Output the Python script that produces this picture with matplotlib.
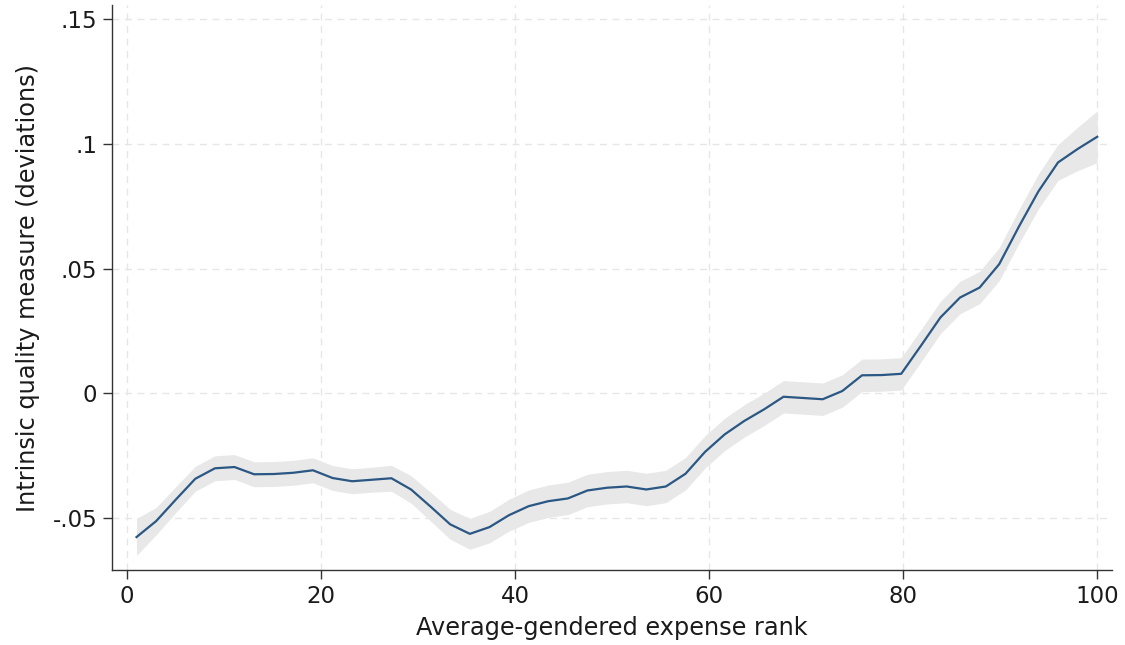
import matplotlib
matplotlib.use("Agg")
import matplotlib.pyplot as plt

# Data
rank = [1.00, 3.02, 5.04, 7.06, 9.08, 11.10, 13.12, 15.14, 17.16, 19.18,
        21.20, 23.22, 25.24, 27.27, 29.29, 31.31, 33.33, 35.35, 37.37, 39.39,
        41.41, 43.43, 45.45, 47.47, 49.49, 51.51, 53.53, 55.55, 57.57, 59.59,
        61.61, 63.63, 65.65, 67.67, 69.69, 71.71, 73.73, 75.76, 77.78, 79.80,
        81.82, 83.84, 85.86, 87.88, 89.90, 91.92, 93.94, 95.96, 97.98, 100.00]

quality = [-0.0577, -0.0513, -0.0427, -0.0343, -0.0301, -0.0296, -0.0325, -0.0324, -0.0319, -0.0309,
           -0.0340, -0.0353, -0.0347, -0.0341, -0.0386, -0.0455, -0.0526, -0.0564, -0.0537, -0.0489,
           -0.0453, -0.0433, -0.0422, -0.0390, -0.0379, -0.0374, -0.0386, -0.0374, -0.0323, -0.0235,
           -0.0165, -0.0111, -0.0065, -0.0014, -0.0019, -0.0024, 0.0009, 0.0072, 0.0073, 0.0078,
           0.0190, 0.0304, 0.0384, 0.0424, 0.0518, 0.0668, 0.0810, 0.0926, 0.0980, 0.1029]

ci_half = [0.0074, 0.0055, 0.0052, 0.0050, 0.0050, 0.0050, 0.0050, 0.0050, 0.0050, 0.0050,
           0.0050, 0.0050, 0.0050, 0.0052, 0.0055, 0.0058, 0.0060, 0.0062, 0.0063, 0.0064,
           0.0065, 0.0065, 0.0065, 0.0065, 0.0065, 0.0065, 0.0065, 0.0065, 0.0065, 0.0065,
           0.0065, 0.0065, 0.0065, 0.0065, 0.0065, 0.0065, 0.0065, 0.0065, 0.0065, 0.0065,
           0.0065, 0.0065, 0.0065, 0.0065, 0.0066, 0.0068, 0.0070, 0.0072, 0.0087, 0.0104]

xticks = [0, 20, 40, 60, 80, 100]
yticks = [-0.05, 0.0, 0.05, 0.10, 0.15]
ytick_labels = ["-.05", "0", ".05", ".1", ".15"]

xlabel = "Average-gendered expense rank"
ylabel = "Intrinsic quality measure (deviations)"

plt.rcParams['font.family'] = ['DejaVu Sans']
text_color = '#1a1a1a'

fig = plt.figure(figsize=(11.25, 6.45), dpi=100)
ax = fig.add_axes([0.0996, 0.1163, 0.8884, 0.8757])

lower = [q - h for q, h in zip(quality, ci_half)]
upper = [q + h for q, h in zip(quality, ci_half)]
ax.fill_between(rank, lower, upper, color='#e8e8e8', linewidth=0, zorder=2)
ax.plot(rank, quality, color='#2a5783', linewidth=1.6, zorder=3)

ax.set_xlim(-1.52, 101.47)
ax.set_ylim(-0.0709, 0.1557)
ax.set_xticks(xticks)
ax.set_yticks(yticks)
ax.set_yticklabels(ytick_labels)

ax.grid(True, color='#e6e6e6', linestyle=(0, (5, 4)), linewidth=1.0, zorder=0)
ax.set_axisbelow(True)

for s in ['top', 'right']:
    ax.spines[s].set_visible(False)
for s in ['left', 'bottom']:
    ax.spines[s].set_color('#333333')
    ax.spines[s].set_linewidth(1.0)

ax.tick_params(axis='both', direction='out', length=6.5, width=1.0,
               color='#333333', labelsize=16.5, labelcolor=text_color, pad=4)

ax.set_xlabel(xlabel, fontsize=17.3, color=text_color, labelpad=6)
ax.set_ylabel(ylabel, fontsize=17.3, color=text_color, labelpad=9)

fig.savefig("out.png", dpi=100, facecolor='white')
